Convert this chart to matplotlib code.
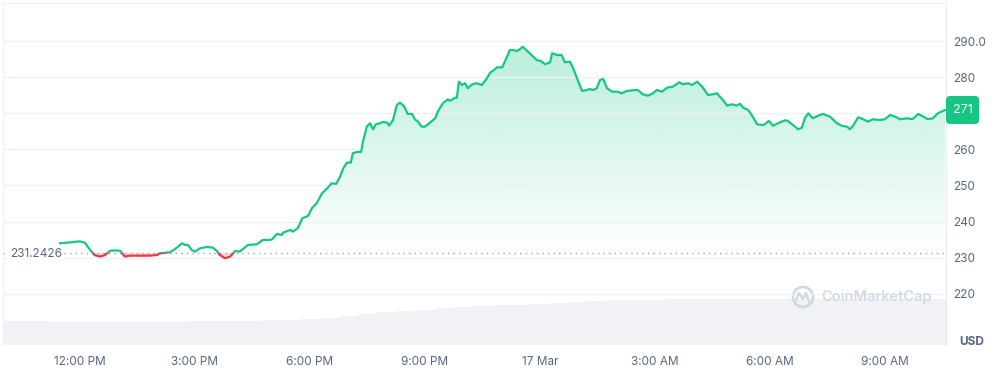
import numpy as np
import matplotlib
matplotlib.use('Agg')
import matplotlib.pyplot as plt
from matplotlib.patches import Rectangle, FancyBboxPatch, Circle
from matplotlib.transforms import IdentityTransform
from matplotlib.colors import to_rgb

plt.rcParams['font.family'] = ['Inter', 'DejaVu Sans']

# minutes since 12:00 PM (16 Mar) and price in USD
minutes = [-31, -16, -8, 0, 8, 16, 23, 31, 39, 47, 55, 63, 70, 78, 94, 110, 121, 125,
           141, 149, 160, 164, 169, 175, 180, 188, 199, 208, 214, 219, 227, 235, 243,
           250, 263, 277, 286, 297, 301, 308, 316, 318, 329, 333, 341, 348, 357, 363,
           371, 379, 387, 394, 401, 407, 413, 418, 424, 427, 434, 440, 443, 449, 454,
           459, 463, 470, 474, 481, 484, 490, 496, 501, 507, 513, 520, 524, 529, 535,
           540, 548, 556, 560, 568, 576, 579, 587, 590, 593, 598, 603, 607, 614, 621,
           629, 637, 642, 646, 653, 661, 665, 673, 678, 684, 689, 693, 704, 715, 723,
           728, 736, 739, 747, 754, 759, 767, 772, 778, 786, 794, 798, 803, 809, 814,
           819, 825, 833, 841, 848, 856, 866, 873, 881, 889, 897, 903, 911, 919, 928,
           938, 944, 952, 958, 966, 974, 983, 991, 997, 1005, 1013, 1021, 1028, 1033,
           1038, 1046, 1052, 1060, 1068, 1072, 1078, 1085, 1096, 1104, 1108, 1116,
           1124, 1130, 1135, 1140, 1147, 1158, 1163, 1174, 1185, 1193, 1201, 1205,
           1210, 1218, 1226, 1233, 1241, 1252, 1260, 1268, 1276, 1284, 1295, 1303,
           1312, 1320, 1327, 1335, 1343, 1354]
prices = [234.0, 234.2, 234.4, 234.5, 234.1, 232.1, 230.7, 230.3, 230.7, 231.9, 232.0,
          231.9, 230.3, 230.55, 230.55, 230.55, 230.75, 231.22, 231.5, 232.41, 233.99,
          233.52, 233.52, 232.13, 231.66, 232.6, 232.96, 232.77, 231.86, 230.75, 229.83,
          230.28, 231.86, 231.66, 233.52, 233.71, 234.9, 234.9, 235.1, 236.57, 236.29,
          236.93, 237.67, 237.2, 238.14, 240.91, 241.55, 243.68, 245.24, 247.84, 249.22,
          250.61, 250.42, 252.44, 255.04, 256.32, 256.32, 258.92, 259.28, 259.28, 262.13,
          266.29, 267.23, 265.57, 266.95, 267.23, 267.59, 267.4, 266.57, 268.14, 272.3,
          272.94, 272.02, 269.81, 269.81, 268.34, 267.67, 266.29, 266.29, 267.4, 268.61,
          270.44, 272.77, 273.88, 273.41, 274.32, 274.32, 278.75, 277.84, 278.31, 276.93,
          278.03, 278.31, 277.84, 279.7, 281.25, 281.72, 282.74, 282.74, 284.29, 287.53,
          287.53, 287.26, 287.81, 288.45, 286.62, 284.76, 284.29, 283.57, 284.13, 286.62,
          286.15, 286.15, 284.13, 284.29, 282.47, 279.7, 276.18, 276.45, 276.73, 276.45,
          276.93, 279.22, 279.5, 276.93, 275.98, 275.98, 275.54, 276.18, 276.37, 276.45,
          275.26, 274.88, 275.54, 276.45, 275.98, 277.09, 277.37, 278.59, 278.03, 278.31,
          277.84, 278.75, 277.37, 275.07, 275.26, 275.54, 273.96, 272.11, 272.49, 272.11,
          272.66, 271.55, 270.91, 269.34, 266.95, 266.76, 266.95, 267.87, 266.57, 267.51,
          268.06, 267.87, 266.76, 265.57, 266.01, 268.78, 270.0, 268.61, 269.53, 269.81,
          269.06, 267.23, 266.48, 266.29, 265.57, 266.48, 268.89, 268.34, 267.67, 268.34,
          268.14, 268.34, 269.53, 269.06, 268.34, 268.61, 268.34, 269.81, 269.06, 268.34,
          268.61, 270.0, 270.91]

# volume bars, one reading every 30 minutes (relative height)
vol_minutes = [-120, -90, -60, -30, 0, 30, 60, 90, 120, 150, 180, 210, 240, 270, 300,
               330, 360, 390, 420, 450, 480, 510, 540, 570, 600, 630, 660, 690, 720,
               750, 780, 810, 840, 870, 900, 930, 960, 990, 1020, 1050, 1080, 1110,
               1140, 1170, 1200, 1230, 1260, 1290, 1320, 1350]
volume = [24.3, 24.3, 24.3, 23.3, 23.3, 23.3, 23.3, 23.3, 23.5, 23.5, 24.3, 24.3, 24.4,
          24.5, 24.6, 25.0, 25.6, 27.0, 29.0, 31.0, 33.0, 34.3, 35.5, 36.7, 37.8, 38.8,
          39.6, 40.5, 41.5, 42.5, 43.5, 44.3, 44.8, 45.2, 45.5, 45.6, 45.7, 45.8, 45.9,
          46.0, 46.1, 46.2, 46.3, 46.3, 46.3, 46.4, 46.4, 46.5, 46.5, 46.5]

base = 231.2426
tick_minutes = [0, 180, 360, 540, 720, 900, 1080, 1260]
tick_labels = ['12:00 PM', '3:00 PM', '6:00 PM', '9:00 PM', '17 Mar', '3:00 AM', '6:00 AM', '9:00 AM']
y_ticks = [220, 230, 240, 250, 260, 270, 280, 290]
# the 270 label sits under the price badge in the original
y_labels = ['220', '230', '240', '250', '260', '', '280', '290.0']

green = '#16c784'
red = '#ea3943'
grey_txt = '#58667e'
grid_col = '#eff2f5'

W, H = 1005, 368
xmin, xmax = -120.5, 1355.6
ymin, ymax = 205.8, 300.55

fig = plt.figure(figsize=(W / 100, H / 100), dpi=100)
pos = [3 / W, (H - 345) / H, 943 / W, 342 / H]

# volume in the background
axv = fig.add_axes(pos, zorder=0)
axv.bar(vol_minutes, volume, width=30, color='#f0f2f5', lw=0)
axv.set_xlim(xmin, xmax)
axv.set_ylim(0, 342)
axv.axis('off')

ax = fig.add_axes(pos, zorder=1)
ax.patch.set_alpha(0)

t = np.array(minutes)
p = np.array(prices)

# green gradient fill above the reference price
poly = ax.fill_between(t, p, base, color='none', lw=0)
rgba = np.zeros((256, 1, 4))
rgba[..., :3] = to_rgb(green)
rgba[..., 3] = np.linspace(0.36, 0.0, 256)[:, None]
im = ax.imshow(rgba, extent=[xmin, xmax, base, ymax], aspect='auto', origin='upper', zorder=1)
im.set_clip_path(poly.get_paths()[0], transform=ax.transData)

# red fill below
ax.fill_between(t, p, base, where=p < base, interpolate=True, color=red, alpha=0.22, lw=0, zorder=1)

# line, green above / red below the reference
lg, = ax.plot(t, p, color=green, lw=1.6, zorder=3, solid_joinstyle='round')
lg.set_clip_path(Rectangle((xmin, base), xmax - xmin, 200, transform=ax.transData))
lr, = ax.plot(t, p, color=red, lw=1.6, zorder=3, solid_joinstyle='round')
lr.set_clip_path(Rectangle((xmin, base - 200), xmax - xmin, 200, transform=ax.transData))

ax.axhline(base, color='#9aa3b5', ls=(0, (1, 3)), lw=1, zorder=2)
ax.annotate(f'{base:.4f}', xy=(0, base), xycoords=('axes fraction', 'data'),
            xytext=(7, -1), textcoords='offset pixels', va='center', ha='left',
            color=grey_txt, fontsize=8.5, zorder=4,
            bbox=dict(boxstyle='square,pad=0.15', fc='white', ec='none'))

ax.set_xlim(xmin, xmax)
ax.set_ylim(ymin, ymax)
ax.set_xticks(tick_minutes)
ax.set_xticklabels(tick_labels)
ax.yaxis.tick_right()
ax.set_yticks(y_ticks)
ax.set_yticklabels(y_labels)
ax.tick_params(axis='both', length=0, colors=grey_txt, labelsize=8.5)
ax.tick_params(axis='y', pad=5)
ax.tick_params(axis='x', pad=8)
ax.grid(axis='y', color=grid_col, lw=1, zorder=0)
ax.spines['bottom'].set_visible(False)
for s in ['top', 'left']:
    ax.spines[s].set_color(grid_col)
ax.spines['right'].set_color('#e8ebf0')

# current price badge
yd = ax.transData.transform((t[-1], p[-1]))[1]
fig.add_artist(FancyBboxPatch((946, yd - 14), 33, 28, boxstyle='round,pad=0,rounding_size=4',
                              transform=IdentityTransform(), fc=green, ec='none', zorder=10))
fig.text(962.5, yd, str(int(round(p[-1]))), transform=IdentityTransform(), ha='center',
         va='center', color='white', fontsize=9, zorder=11)

fig.text(972, H - 342, 'USD', transform=IdentityTransform(), ha='center', va='center',
         color=grey_txt, fontsize=8.5, fontweight='bold')

# watermark
wm = '#d3d9e3'
fig.add_artist(Circle((803, H - 297), 10, transform=IdentityTransform(), fill=False, ec=wm, lw=2))
fig.add_artist(plt.Line2D([796, 799, 803, 806, 809], [H - 300, H - 293, H - 299, H - 293, H - 302],
                          transform=IdentityTransform(), color=wm, lw=1.8))
fig.text(821, H - 297, 'CoinMarketCap', transform=IdentityTransform(), ha='left', va='center',
         color=wm, fontsize=10.5, fontweight='semibold')

fig.savefig('out.png', dpi=100)
